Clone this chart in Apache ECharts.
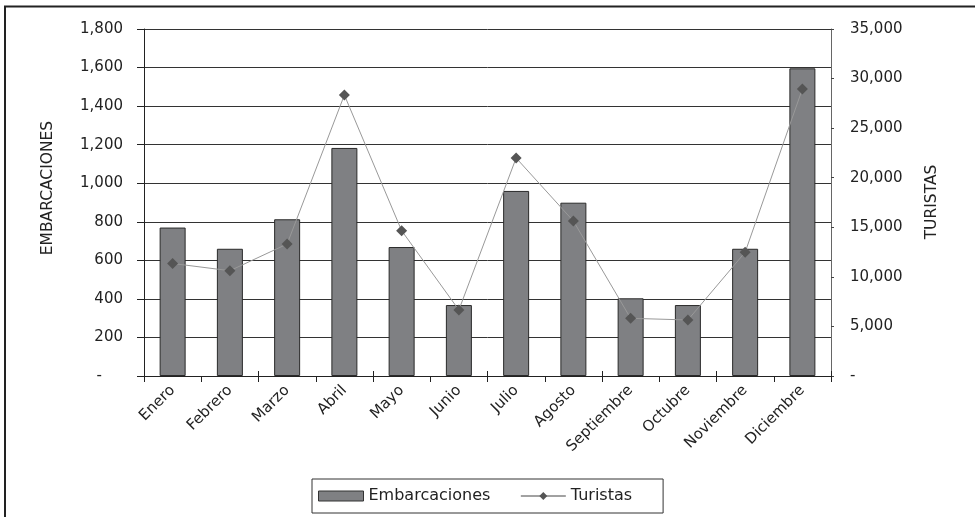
<!DOCTYPE html>
<html>
<head>
<meta charset="utf-8">
<script src="https://cdn.jsdelivr.net/npm/echarts@6/dist/echarts.min.js"></script>
<style>
html,body{margin:0;padding:0;background:#fff;}
#main{width:975px;height:517px;}
</style>
</head>
<body>
<div id="main"></div>
<script>
const months = ['Enero','Febrero','Marzo','Abril','Mayo','Junio','Julio','Agosto','Septiembre','Octubre','Noviembre','Diciembre'];
const embarcaciones = [770, 660, 813, 1183, 669, 368, 960, 899, 403, 368, 660, 1596];
const turistas = [11350, 10620, 13310, 28340, 14660, 6660, 21990, 15630, 5820, 5650, 12480, 28950];
const leftTitle = 'EMBARCACIONES';
const rightTitle = 'TURISTAS';

const FONT = "'DejaVu Sans', sans-serif";
const fmt = v => v === 0 ? '-' : v.toLocaleString('en-US');

const chart = echarts.init(document.getElementById('main'));
chart.setOption({
  animation: false,
  backgroundColor: '#fff',
  grid: {left: 144, right: 144, top: 29, bottom: 141},
  legend: {
    left: 312, top: 479,
    data: [
      {name: 'Embarcaciones', icon: 'rect', itemStyle: {borderWidth: 1, borderColor: '#333'}},
      {name: 'Turistas', lineStyle: {color: '#444', width: 1}}
    ],
    borderColor: '#333', borderWidth: 1,
    padding: [8, 31, 8, 6],
    itemWidth: 45, itemHeight: 10, itemGap: 30,
    textStyle: {fontFamily: FONT, fontSize: 16, color: '#222', lineHeight: 18}
  },
  xAxis: [{
    type: 'category', data: months, position: 'bottom',
    axisLine: {lineStyle: {color: '#222'}},
    axisTick: {show: true, length: 6, lineStyle: {color: '#222'}},
    axisLabel: {rotate: 45, margin: 12, interval: 0, fontFamily: FONT, fontSize: 15, color: '#222'}
  }, {
    type: 'category', data: months, position: 'bottom',
    axisLine: {show: false},
    axisTick: {show: true, inside: true, length: 5, lineStyle: {color: '#222'}},
    axisLabel: {show: false}
  }],
  yAxis: [{
    type: 'value', min: 0, max: 1800, interval: 200, position: 'left',
    axisLine: {show: true, lineStyle: {color: '#222'}},
    axisTick: {show: true, length: 7, lineStyle: {color: '#222'}},
    splitLine: {show: true, lineStyle: {color: '#333', width: 1}},
    axisLabel: {
      margin: 21, fontFamily: FONT, fontSize: 15, color: '#222',
      formatter: v => v === 0 ? '{z|-}' : fmt(v),
      rich: {z: {fontFamily: FONT, fontSize: 15, color: '#222', padding: [0, 21, 0, 0]}}
    }
  }, {
    type: 'value', min: 0, max: 35000, interval: 5000, position: 'right',
    axisLine: {show: true, lineStyle: {color: '#666'}},
    axisTick: {show: true, length: 3, lineStyle: {color: '#444'}},
    splitLine: {show: false},
    axisLabel: {margin: 19, fontFamily: FONT, fontSize: 15, color: '#222', formatter: fmt}
  }],
  series: [{
    name: 'Embarcaciones', type: 'bar', data: embarcaciones,
    xAxisIndex: 0, yAxisIndex: 0, barWidth: 26,
    itemStyle: {color: '#7f8083', borderColor: '#2a2a2a', borderWidth: 1}
  }, {
    name: 'Turistas', type: 'line', data: turistas,
    xAxisIndex: 0, yAxisIndex: 1,
    symbol: 'diamond', symbolSize: 11,
    lineStyle: {color: '#999', width: 1},
    itemStyle: {color: '#555'}
  }],
  graphic: [
    {type: 'line', shape: {x1: 4, y1: 6.5, x2: 975, y2: 6.5}, style: {stroke: '#222', lineWidth: 2}},
    {type: 'line', shape: {x1: 5, y1: 6, x2: 5, y2: 517}, style: {stroke: '#222', lineWidth: 2}},
    {type: 'text', x: 48, y: 188, rotation: Math.PI / 2,
     style: {text: leftTitle, font: '15.5px ' + FONT, fill: '#222', textAlign: 'center', textVerticalAlign: 'middle'}},
    {type: 'text', x: 932, y: 202, rotation: Math.PI / 2,
     style: {text: rightTitle, font: '15.5px ' + FONT, fill: '#222', textAlign: 'center', textVerticalAlign: 'middle'}}
  ]
});
</script>
</body>
</html>
